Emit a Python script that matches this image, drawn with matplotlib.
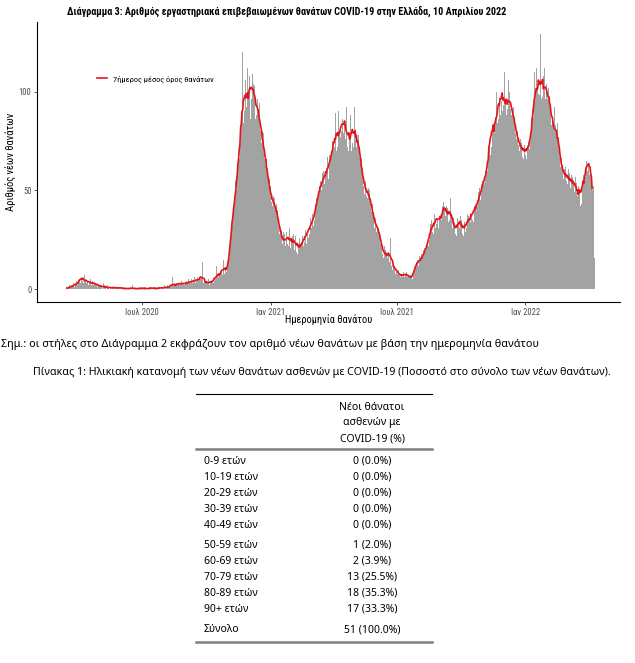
import pandas as pd
import numpy as np
import matplotlib
matplotlib.use("Agg")
import matplotlib.pyplot as plt

# daily deaths by date of death (12 Mar 2020 - 10 Apr 2022)
start_date = "2020-03-12"
deaths = [
    # Mar 2020 (12-31)
    1, 0, 1, 0, 1, 1, 0, 2, 1, 1, 2, 1, 3, 2, 1, 3, 2, 4, 2, 3,
    # Apr 2020
    4, 5, 3, 10, 6, 4, 5, 3, 7, 4, 5, 3, 4, 6, 2, 4, 3, 5, 2, 3, 4, 2, 3, 5, 2, 2, 3, 1, 2, 3,
    # May 2020
    2, 1, 2, 1, 0, 3, 1, 2, 1, 1, 0, 2, 1, 1, 0, 1, 2, 0, 1, 1, 0, 1, 2, 0, 1, 1, 0, 1, 0, 2, 1,
    # Jun 2020
    0, 1, 0, 1, 0, 0, 1, 0, 1, 0, 0, 1, 0, 1, 0, 0, 2, 0, 1, 0, 0, 1, 0, 0, 1, 0, 1, 0, 0, 1,
    # Jul 2020
    1, 0, 0, 1, 0, 1, 0, 0, 1, 0, 1, 0, 0, 1, 2, 0, 0, 1, 0, 1, 0, 0, 1, 0, 1, 1, 0, 2, 0, 1, 0,
    # Aug 2020
    1, 2, 0, 1, 1, 2, 0, 1, 2, 1, 1, 2, 6, 1, 2, 3, 1, 2, 3, 2, 4, 3, 2, 3, 2, 4, 3, 2, 3, 4, 2,
    # Sep 2020
    3, 4, 2, 3, 5, 3, 4, 3, 4, 5, 3, 4, 4, 6, 3, 5, 4, 6, 5, 4, 6, 5, 4, 6, 14, 4, 3, 5, 4, 3,
    # Oct 2020
    4, 3, 3, 5, 2, 4, 3, 4, 5, 4, 3, 6, 4, 5, 12, 5, 7, 6, 8, 7, 9, 8, 10, 7, 15, 11, 8, 10, 12, 9, 11,
    # Nov 2020
    9, 15, 16, 25, 26, 34, 32, 41, 38, 46, 43, 55, 50, 58, 60, 70, 66, 82, 74, 86,
    75, 120, 84, 108, 90, 106, 92, 86, 112, 98,
    # Dec 2020
    94, 108, 86, 118, 96, 109, 104, 92, 103, 86, 104, 88, 96, 82, 91, 94, 80, 84, 74, 80,
    70, 79, 66, 70, 63, 66, 56, 60, 52, 56, 47,
    # Jan 2021
    52, 44, 48, 42, 47, 39, 46, 40, 43, 37, 40, 32, 36, 28, 31, 25, 30, 23, 29, 18,
    28, 22, 27, 29, 23, 28, 22, 31, 24, 21, 26,
    # Feb 2021
    27, 21, 28, 20, 25, 27, 19, 25, 18, 23, 26, 17, 22, 24, 20, 27, 22, 29, 24, 30,
    23, 31, 29, 26, 35, 28, 36, 30,
    # Mar 2021
    31, 38, 32, 40, 35, 43, 37, 46, 44, 51, 47, 52, 49, 55, 50, 59, 51, 60, 53, 61,
    57, 60, 58, 67, 56, 68, 62, 66, 70, 66, 75,
    # Apr 2021
    71, 76, 72, 89, 70, 81, 72, 90, 74, 79, 77, 82, 80, 86, 99, 79, 83, 76, 81, 92,
    72, 81, 70, 78, 73, 88, 70, 74, 97, 72,
    # May 2021
    92, 66, 81, 72, 80, 76, 78, 67, 70, 64, 66, 57, 61, 52, 56, 48, 55, 47, 52, 46,
    51, 45, 50, 43, 47, 39, 43, 34, 39, 31, 36,
    # Jun 2021
    34, 29, 32, 30, 31, 27, 30, 23, 24, 18, 21, 16, 22, 15, 20, 17, 18, 16, 19, 14,
    18, 26, 12, 15, 10, 13, 11, 12, 8, 11,
    # Jul 2021
    9, 8, 10, 7, 8, 6, 7, 8, 6, 7, 9, 6, 8, 7, 9, 6, 8, 7, 6, 5, 7, 6, 5, 7, 8, 10, 11, 12, 14, 13, 15,
    # Aug 2021
    12, 17, 11, 16, 18, 14, 16, 20, 15, 21, 19, 23, 20, 24, 22, 29, 25, 33, 27, 35,
    29, 36, 28, 38, 31, 37, 33, 35, 45, 31, 37,
    # Sep 2021
    30, 37, 35, 42, 39, 44, 40, 45, 37, 42, 35, 41, 34, 42, 35, 46, 36, 39, 31, 36,
    29, 34, 28, 33, 27, 36, 32, 37, 31, 37,
    # Oct 2021
    32, 35, 28, 33, 27, 34, 29, 36, 31, 38, 31, 37, 35, 37, 34, 38, 35, 48, 34, 42,
    38, 43, 40, 45, 42, 49, 43, 51, 45, 53, 50,
    # Nov 2021
    55, 52, 57, 54, 59, 57, 62, 60, 69, 67, 75, 68, 104, 72, 80, 77, 82, 79, 87, 81,
    100, 84, 92, 86, 95, 111, 88, 95, 108, 90,
    # Dec 2021
    93, 110, 86, 95, 88, 97, 91, 106, 92, 100, 91, 88, 96, 88, 92, 83, 87, 79, 83, 76,
    80, 73, 77, 70, 76, 69, 74, 67, 75, 66, 73,
    # Jan 2022
    68, 74, 66, 73, 70, 74, 71, 76, 75, 85, 80, 91, 87, 110, 92, 100, 112, 94, 104, 99,
    105, 98, 129, 96, 102, 97, 108, 99, 112, 96, 100,
    # Feb 2022
    104, 96, 102, 93, 97, 89, 100, 83, 86, 77, 81, 92, 70, 83, 79, 84, 75, 77, 67, 70,
    62, 66, 58, 63, 56, 61, 54, 62,
    # Mar 2022
    55, 60, 53, 61, 52, 59, 51, 58, 52, 57, 53, 56, 49, 57, 48, 54, 47, 52, 44, 49,
    42, 65, 43, 52, 50, 58, 55, 60, 57, 65, 60,
    # Apr 2022 (1-10)
    74, 62, 58, 66, 60, 55, 58, 50, 52, 16,
]

tick_dates = ["2020-07-01", "2021-01-01", "2021-07-01", "2022-01-01"]
tick_labels = ["Ιουλ 2020", "Ιαν 2021", "Ιουλ 2021", "Ιαν 2022"]
y_ticks = [0, 50, 100]

age_groups = ["0-9 ετών", "10-19 ετών", "20-29 ετών", "30-39 ετών", "40-49 ετών",
              "50-59 ετών", "60-69 ετών", "70-79 ετών", "80-89 ετών", "90+ ετών", "Σύνολο"]
age_deaths = [0, 0, 0, 0, 0, 1, 2, 13, 18, 17, 51]
age_pct = [0.0, 0.0, 0.0, 0.0, 0.0, 2.0, 3.9, 25.5, 35.3, 33.3, 100.0]
header_lines = ["Νέοι θάνατοι", "ασθενών με", "COVID-19 (%)"]

title = ("Διάγραμμα 3: Αριθμός εργαστηριακά επιβεβαιωμένων θανάτων COVID-19 "
         "στην Ελλάδα, 10 Απριλίου 2022")
note = ("Σημ.: οι στήλες στο Διάγραμμα 2 εκφράζουν τον αριθμό νέων θανάτων "
        "με βάση την ημερομηνία θανάτου")
caption = ("Πίνακας 1: Ηλικιακή κατανομή των νέων θανάτων ασθενών με COVID-19 "
           "(Ποσοστό στο σύνολο των νέων θανάτων).")

plt.rcParams["font.family"] = ["Roboto Condensed", "Liberation Sans", "DejaVu Sans"]
body = ["Noto Sans", "DejaVu Sans"]

W, H = 635, 663
fig = plt.figure(figsize=(W / 100, H / 100), dpi=100)

#%% chart
ax = fig.add_axes([37 / W, 1 - 302 / H, 583 / W, 280.3 / H])
dates = pd.date_range(start_date, periods=len(deaths), freq="D")
avg = pd.Series(deaths, index=dates).rolling(7, center=True).mean()

ax.bar(dates, deaths, width=1.0, color="#a3a3a3", linewidth=0, zorder=1)
line, = ax.plot(dates, avg, color="#e3151b", lw=1.2, zorder=2,
                label="7ήμερος μέσος όρος θανάτων")

ax.set_xlim(pd.Timestamp("2020-02-01"), pd.Timestamp("2022-05-17"))
ax.set_ylim(-6.4, 135.3)
ax.set_xticks(pd.to_datetime(tick_dates))
ax.set_xticklabels(tick_labels)
ax.set_yticks(y_ticks)
ax.tick_params(length=2.5, width=0.6, color="#333333", labelcolor="#4d4d4d",
               labelsize=6.2, pad=1.5)
for side in ["top", "right"]:
    ax.spines[side].set_visible(False)
for side in ["left", "bottom"]:
    ax.spines[side].set_linewidth(0.8)

ax.set_ylabel("Αριθμός νέων θανάτων", fontsize=7.6, va="center")
ax.yaxis.set_label_coords(-26 / 583, 0.5)
ax.set_xlabel("Ημερομηνία θανάτου", fontsize=7.5, va="center")
ax.xaxis.set_label_coords(0.5, -18 / 280.3)

ax.legend(handles=[line], loc="center left", bbox_to_anchor=(60 / 583, 223 / 280.3),
          frameon=False, fontsize=6.0, handlelength=1.2, handletextpad=0.7,
          borderpad=0, borderaxespad=0)

#%% texts and table, in pixel coordinates
ov = fig.add_axes([0, 0, 1, 1])
ov.set_xlim(0, W)
ov.set_ylim(H, 0)
ov.axis("off")

ov.text(67, 11, title, fontsize=7.3, fontweight="bold", va="center", ha="left")
ov.text(1, 345, note, fontsize=7.8, family=body, va="center", ha="left")
ov.text(322, 373, caption, fontsize=7.7, family=body, va="center", ha="center")

ov.plot([196, 432], [394, 394], color="black", lw=0.8)
ov.plot([196, 432], [449, 449], color="#808080", lw=1.8)
ov.plot([196, 432], [642, 642], color="#808080", lw=1.8)

for text, y in zip(header_lines, [407, 423, 439]):
    ov.text(372, y, text, fontsize=7.5, family=body, va="center", ha="center")

row_y = [461, 477, 493, 509, 525, 545, 561, 577, 593, 609, 630]
for label, n, p, y in zip(age_groups, age_deaths, age_pct, row_y):
    ov.text(204, y, label, fontsize=7.5, family=body, va="center", ha="left")
    ov.text(372, y, f"{n} ({p:.1f}%)", fontsize=7.5, family=body, va="center", ha="center")

plt.savefig("out.png", dpi=100)
